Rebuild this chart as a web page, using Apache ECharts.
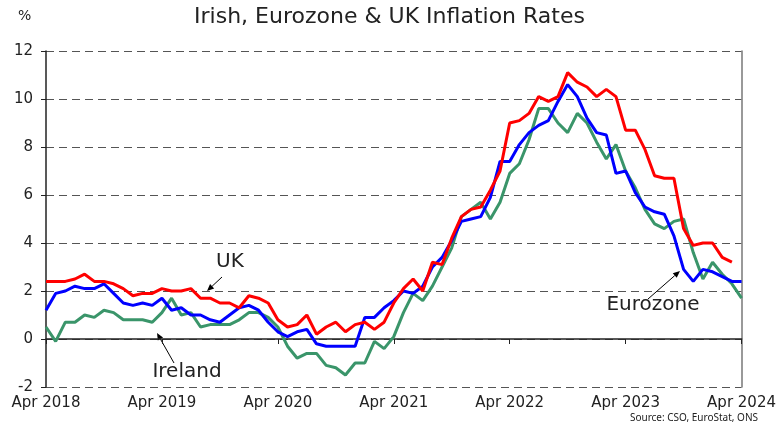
<!DOCTYPE html>
<html>
<head>
<meta charset="utf-8">
<script src="https://cdn.jsdelivr.net/npm/echarts@6/dist/echarts.min.js"></script>
<style>
  html, body { margin: 0; padding: 0; background: #fff; }
  #chart { width: 779px; height: 424px; }
</style>
</head>
<body>
<div id="chart"></div>
<script>
// months on the axis, Apr 2018 .. Apr 2024
var monthNames = ['Jan','Feb','Mar','Apr','May','Jun','Jul','Aug','Sep','Oct','Nov','Dec'];
var categories = [];
for (var y = 2018; y <= 2024; y++) {
	for (var m = 0; m < 12; m++) {
		if ((y == 2018 && m < 3) || (y == 2024 && m > 3)) continue;
		categories.push(monthNames[m] + ' ' + y);
	}
}

// Irish HICP (as plotted)
var ireland = [
	0.5, -0.1, 0.7, 0.7, 1.0, 0.9, 1.2, 1.1, 0.8, 0.8,
	0.8, 0.7, 1.1, 1.7, 1.0, 1.1, 0.5, 0.6, 0.6, 0.6, 0.8, 1.1,
	1.1, 0.9, 0.5, -0.3, -0.8, -0.6, -0.6, -1.1, -1.2, -1.5, -1.0, -1.0,
	-0.1, -0.4, 0.1, 1.1, 1.9, 1.6, 2.2, 3.0, 3.8, 5.1, 5.4, 5.7,
	5.0, 5.7, 6.9, 7.3, 8.3, 9.6, 9.6, 9.0, 8.6, 9.4, 9.0, 8.2,
	7.5, 8.1, 7.0, 6.3, 5.4, 4.8, 4.6, 4.9, 5.0, 3.6, 2.5, 3.2,
	2.7, 2.3, 1.7
];
// Eurozone HICP
var eurozone = [
	1.2, 1.9, 2.0, 2.2, 2.1, 2.1, 2.3, 1.9, 1.5,
	1.4, 1.5, 1.4, 1.7, 1.2, 1.3, 1.0, 1.0, 0.8, 0.7, 1.0, 1.3,
	1.4, 1.2, 0.7, 0.3, 0.1, 0.3, 0.4, -0.2, -0.3, -0.3, -0.3, -0.3,
	0.9, 0.9, 1.3, 1.6, 2.0, 1.9, 2.2, 3.0, 3.4, 4.1, 4.9, 5.0,
	5.1, 5.9, 7.4, 7.4, 8.1, 8.6, 8.9, 9.1, 9.9, 10.6, 10.1, 9.2,
	8.6, 8.5, 6.9, 7.0, 6.1, 5.5, 5.3, 5.2, 4.3, 2.9, 2.4, 2.9,
	2.8, 2.6, 2.4, 2.4
];
// UK CPI (no April 2024 figure)
var uk = [
	2.4, 2.4, 2.4, 2.5, 2.7, 2.4, 2.4, 2.3, 2.1,
	1.8, 1.9, 1.9, 2.1, 2.0, 2.0, 2.1, 1.7, 1.7, 1.5, 1.5, 1.3,
	1.8, 1.7, 1.5, 0.8, 0.5, 0.6, 1.0, 0.2, 0.5, 0.7, 0.3, 0.6,
	0.7, 0.4, 0.7, 1.5, 2.1, 2.5, 2.0, 3.2, 3.1, 4.2, 5.1, 5.4,
	5.5, 6.2, 7.0, 9.0, 9.1, 9.4, 10.1, 9.9, 10.1, 11.1, 10.7, 10.5,
	10.1, 10.4, 10.1, 8.7, 8.7, 7.9, 6.8, 6.7, 6.7, 4.6, 3.9, 4.0,
	4.0, 3.4, 3.2
];

var FONT = 'DejaVu Sans';

// small arrow for the annotations
function arrow(x1, y1, x2, y2) {
	var a = Math.atan2(y2 - y1, x2 - x1);
	var len = 7, w = 3;
	var bx = x2 - len * Math.cos(a), by = y2 - len * Math.sin(a);
	return {
		type : 'group',
		children : [{
			type : 'line',
			shape : { x1 : x1, y1 : y1, x2 : bx, y2 : by },
			style : { stroke : '#000', lineWidth : 1 }
		}, {
			type : 'polygon',
			shape : { points : [[x2, y2],
				[bx + w * Math.sin(a), by - w * Math.cos(a)],
				[bx - w * Math.sin(a), by + w * Math.cos(a)]] },
			style : { fill : '#000' }
		}]
	};
}

var myChart = echarts.init(document.getElementById('chart'));
var option = {
	animation : false,
	backgroundColor : '#fff',
	title : {
		text : 'Irish, Eurozone & UK Inflation Rates',
		left : 'center',
		top : 1,
		textStyle : { fontFamily : FONT, fontSize : 22, fontWeight : 'normal', color : '#222' }
	},
	grid : { left : 46, right : 37, top : 51, bottom : 37 },
	xAxis : {
		type : 'category',
		data : categories,
		boundaryGap : false,
		axisLine : { lineStyle : { color : '#222', width : 1.5 } },
		axisTick : { show : true, interval : 11, length : 5, lineStyle : { color : '#222' } },
		axisLabel : { interval : 11, margin : 9, fontFamily : FONT, fontSize : 15, color : '#222' },
		splitLine : { show : false }
	},
	yAxis : [{
		type : 'value',
		min : -2,
		max : 12,
		interval : 2,
		axisLine : { show : true, lineStyle : { color : '#222', width : 1.5 } },
		axisTick : { show : true, length : 5, lineStyle : { color : '#222' } },
		axisLabel : { margin : 13, fontFamily : FONT, fontSize : 15, color : '#222' },
		splitLine : { show : true, lineStyle : { type : [8, 5], color : '#555', width : 1 } }
	}, {
		type : 'value',
		min : -2,
		max : 12,
		interval : 2,
		position : 'right',
		axisLine : { show : true, lineStyle : { color : '#777', width : 1.5 } },
		axisTick : { show : false },
		axisLabel : { show : false },
		splitLine : { show : false }
	}],
	series : [{
		name : 'Ireland',
		type : 'line',
		data : ireland,
		symbol : 'none',
		lineStyle : { color : '#3a956a', width : 3 }
	}, {
		name : 'Eurozone',
		type : 'line',
		data : eurozone,
		symbol : 'none',
		lineStyle : { color : '#0000ff', width : 3 }
	}, {
		name : 'UK',
		type : 'line',
		data : uk,
		symbol : 'none',
		lineStyle : { color : '#ff0000', width : 3 }
	}],
	graphic : [
		{ type : 'text', left : 18, top : 9, style : { text : '%', fontFamily : FONT, fontSize : 14, fill : '#222' } },
		{ type : 'text', x : 230, y : 262, style : { text : 'UK', fontFamily : FONT, fontSize : 20, fill : '#222', align : 'center', verticalAlign : 'middle' } },
		arrow(222, 277, 207, 291),
		{ type : 'text', x : 187, y : 372, style : { text : 'Ireland', fontFamily : FONT, fontSize : 20, fill : '#222', align : 'center', verticalAlign : 'middle' } },
		arrow(174, 363, 157, 333),
		{ type : 'text', x : 653, y : 305, style : { text : 'Eurozone', fontFamily : FONT, fontSize : 20, fill : '#222', align : 'center', verticalAlign : 'middle' } },
		arrow(648, 299, 680, 271),
		{ type : 'text', right : 21, bottom : 1, style : { text : 'Source: CSO, EuroStat, ONS', fontFamily : 'Noto Sans', fontSize : 10, fill : '#222' } }
	]
};
myChart.setOption(option);
</script>
</body>
</html>
